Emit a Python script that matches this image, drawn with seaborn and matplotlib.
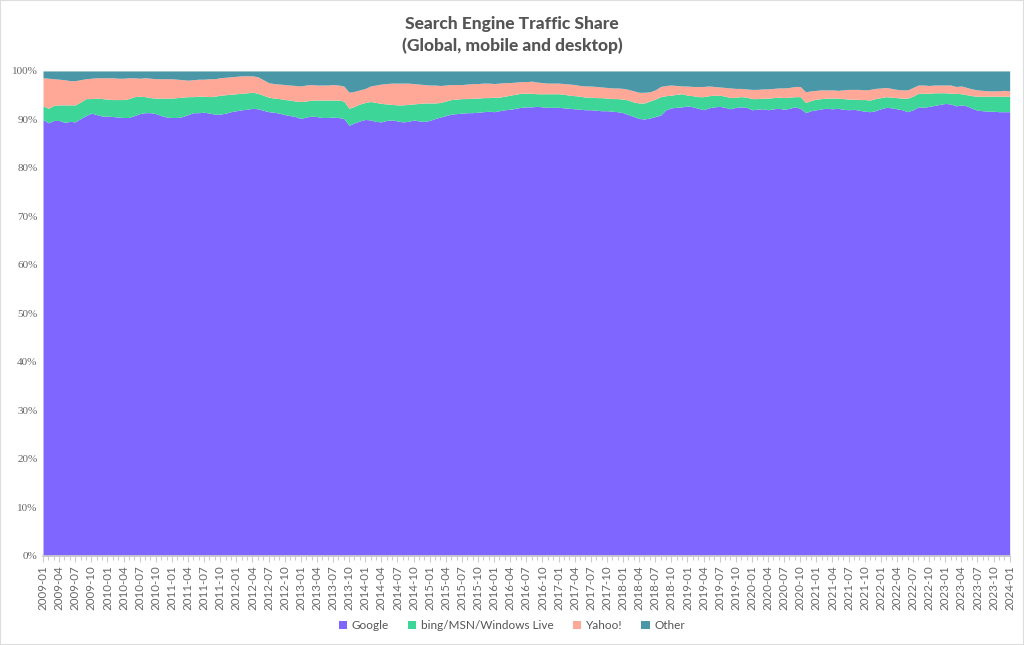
import numpy as np
import pandas as pd
import matplotlib
matplotlib.use("Agg")
import matplotlib.pyplot as plt
from matplotlib.patches import Patch
from matplotlib.ticker import FuncFormatter, MultipleLocator
import seaborn as sns

# monthly share in %, 2009-01 .. 2024-01
google = [
    90.0, 89.3, 89.8, 89.8, 89.4, 89.6, 89.5, 90.2, 90.8, 91.3, 91.0, 90.7,
    90.7, 90.6, 90.5, 90.4, 90.4, 90.8, 91.2, 91.4, 91.4, 91.2, 90.8, 90.5,
    90.4, 90.4, 90.6, 91.0, 91.4, 91.4, 91.5, 91.3, 91.1, 91.1, 91.3, 91.6,
    91.8, 92.0, 92.1, 92.3, 92.2, 91.9, 91.6, 91.5, 91.3, 91.0, 90.8, 90.6,
    90.2, 90.5, 90.7, 90.6, 90.4, 90.4, 90.5, 90.4, 90.2, 88.8, 89.3, 89.7,
    90.0, 89.9, 89.6, 89.5, 89.8, 89.9, 89.7, 89.5, 89.6, 89.9, 89.7, 89.6,
    89.8, 90.2, 90.5, 90.8, 91.1, 91.2, 91.3, 91.4, 91.4, 91.5, 91.6, 91.7,
    91.6, 91.8, 92.0, 92.1, 92.3, 92.5, 92.6, 92.6, 92.7, 92.6, 92.5, 92.5,
    92.5, 92.4, 92.3, 92.2, 92.1, 92.0, 92.0, 91.9, 91.8, 91.8, 91.7, 91.6,
    91.4, 91.0, 90.6, 90.2, 90.1, 90.3, 90.6, 90.9, 92.0, 92.4, 92.5, 92.6,
    92.8, 92.6, 92.3, 92.0, 92.4, 92.6, 92.7, 92.5, 92.2, 92.5, 92.6, 92.5,
    92.0, 92.1, 92.2, 92.0, 92.2, 92.3, 92.1, 92.3, 92.6, 92.3, 91.4, 91.8,
    92.0, 92.2, 92.3, 92.2, 92.3, 92.1, 92.0, 92.1, 91.9, 91.7, 91.6, 91.8,
    92.2, 92.5, 92.4, 92.2, 92.0, 91.6, 92.0, 92.6, 92.5, 92.7, 92.9, 93.1,
    93.3, 93.2, 92.8, 93.0, 92.8, 92.3, 91.9, 91.8, 91.7, 91.7, 91.6, 91.6,
    91.6,
]
bing = [
    2.8, 3.0, 3.1, 3.2, 3.6, 3.4, 3.5, 3.4, 3.5, 3.0, 3.4, 3.6,
    3.5, 3.5, 3.6, 3.7, 3.9, 3.9, 3.6, 3.3, 3.1, 3.2, 3.6, 3.9,
    4.0, 4.1, 4.0, 3.7, 3.3, 3.4, 3.3, 3.4, 3.7, 3.9, 3.8, 3.6,
    3.5, 3.4, 3.4, 3.3, 3.2, 3.1, 3.0, 2.9, 3.0, 3.1, 3.2, 3.2,
    3.5, 3.3, 3.3, 3.4, 3.6, 3.6, 3.5, 3.6, 3.6, 3.5, 3.4, 3.5,
    3.5, 3.8, 3.9, 3.8, 3.4, 3.2, 3.3, 3.5, 3.5, 3.3, 3.6, 3.8,
    3.6, 3.2, 3.0, 3.0, 3.0, 3.0, 3.0, 2.9, 3.0, 2.9, 2.9, 2.8,
    3.0, 2.8, 2.8, 2.9, 2.9, 2.9, 2.8, 2.8, 2.6, 2.7, 2.8, 2.8,
    2.8, 2.8, 2.7, 2.7, 2.7, 2.6, 2.6, 2.6, 2.7, 2.6, 2.6, 2.7,
    2.8, 3.0, 3.0, 3.2, 3.3, 3.5, 3.6, 3.8, 2.9, 2.6, 2.7, 2.7,
    2.2, 2.3, 2.4, 2.7, 2.5, 2.4, 2.3, 2.3, 2.3, 2.1, 2.1, 2.1,
    2.3, 2.2, 2.2, 2.4, 2.3, 2.3, 2.4, 2.3, 2.1, 2.4, 2.1, 2.1,
    2.2, 2.1, 2.1, 2.2, 2.1, 2.2, 2.2, 2.1, 2.2, 2.4, 2.4, 2.5,
    2.3, 2.2, 2.2, 2.3, 2.4, 2.8, 2.8, 2.8, 2.9, 2.7, 2.6, 2.4,
    2.2, 2.2, 2.6, 2.3, 2.3, 2.6, 2.9, 3.0, 3.1, 3.1, 3.2, 3.2,
    3.2,
]
yahoo = [
    5.8, 6.2, 5.5, 5.3, 5.2, 5.0, 5.0, 4.6, 4.1, 4.2, 4.2, 4.3,
    4.4, 4.5, 4.4, 4.4, 4.3, 3.9, 3.7, 3.9, 4.0, 4.0, 4.0, 4.0,
    4.0, 3.8, 3.6, 3.4, 3.5, 3.5, 3.5, 3.7, 3.6, 3.6, 3.6, 3.6,
    3.6, 3.6, 3.5, 3.4, 3.4, 3.2, 3.0, 3.0, 3.0, 3.1, 3.1, 3.2,
    3.2, 3.3, 3.2, 3.1, 3.1, 3.1, 3.2, 3.1, 3.1, 3.3, 3.1, 2.9,
    2.9, 3.2, 3.6, 4.0, 4.2, 4.4, 4.5, 4.5, 4.4, 4.2, 4.0, 3.8,
    3.7, 3.7, 3.5, 3.3, 3.1, 3.0, 2.9, 3.0, 3.0, 3.0, 3.0, 3.0,
    2.8, 2.9, 2.8, 2.6, 2.5, 2.4, 2.4, 2.5, 2.4, 2.3, 2.2, 2.2,
    2.2, 2.2, 2.3, 2.3, 2.2, 2.3, 2.3, 2.3, 2.2, 2.2, 2.2, 2.2,
    2.2, 2.2, 2.3, 2.2, 2.2, 1.9, 1.9, 2.1, 2.1, 2.1, 1.8, 1.6,
    1.9, 1.9, 2.1, 2.1, 2.0, 1.8, 1.7, 1.8, 2.0, 1.8, 1.7, 1.7,
    1.9, 1.9, 1.9, 1.9, 1.9, 1.9, 2.0, 2.0, 2.1, 2.1, 2.2, 2.0,
    1.8, 1.8, 1.7, 1.7, 1.6, 1.8, 2.0, 2.0, 2.1, 2.0, 2.2, 2.1,
    2.0, 1.9, 1.8, 1.7, 1.7, 1.7, 1.8, 1.7, 1.7, 1.6, 1.6, 1.6,
    1.6, 1.7, 1.4, 1.6, 1.5, 1.4, 1.3, 1.2, 1.1, 1.1, 1.1, 1.2,
    1.1,
]
other = [
    1.4, 1.5, 1.6, 1.7, 1.8, 2.0, 2.0, 1.8, 1.6, 1.5, 1.4, 1.4,
    1.4, 1.4, 1.5, 1.5, 1.4, 1.4, 1.5, 1.4, 1.5, 1.6, 1.6, 1.6,
    1.6, 1.7, 1.8, 1.9, 1.8, 1.7, 1.7, 1.6, 1.6, 1.4, 1.3, 1.2,
    1.1, 1.0, 1.0, 1.0, 1.2, 1.8, 2.4, 2.6, 2.7, 2.8, 2.9, 3.0,
    3.1, 2.9, 2.8, 2.9, 2.9, 2.9, 2.8, 2.9, 3.1, 4.4, 4.2, 3.9,
    3.6, 3.1, 2.9, 2.7, 2.6, 2.5, 2.5, 2.5, 2.5, 2.6, 2.7, 2.8,
    2.9, 2.9, 3.0, 2.9, 2.8, 2.8, 2.8, 2.7, 2.6, 2.6, 2.5, 2.5,
    2.6, 2.5, 2.4, 2.4, 2.3, 2.2, 2.2, 2.1, 2.3, 2.4, 2.5, 2.5,
    2.5, 2.6, 2.7, 2.8, 3.0, 3.1, 3.1, 3.2, 3.3, 3.4, 3.5, 3.5,
    3.6, 3.8, 4.1, 4.4, 4.4, 4.3, 3.9, 3.2, 3.0, 2.9, 3.0, 3.1,
    3.1, 3.2, 3.2, 3.2, 3.1, 3.2, 3.3, 3.4, 3.5, 3.6, 3.6, 3.7,
    3.8, 3.8, 3.7, 3.7, 3.6, 3.5, 3.5, 3.4, 3.2, 3.2, 4.3, 4.1,
    4.0, 3.9, 3.9, 3.9, 4.0, 3.9, 3.8, 3.8, 3.8, 3.9, 3.8, 3.6,
    3.5, 3.4, 3.6, 3.8, 3.9, 3.9, 3.4, 2.9, 2.9, 3.0, 2.9, 2.9,
    2.9, 2.9, 3.2, 3.1, 3.4, 3.7, 3.9, 4.0, 4.1, 4.1, 4.1, 4.0,
    4.1,
]
months = pd.period_range("2009-01", "2024-01", freq="M").strftime("%Y-%m").tolist()
series_names = ["Google", "bing/MSN/Windows Live", "Yahoo!", "Other"]
colors = ["#7F66FF", "#3DD598", "#FFA897", "#4A97A8"]

df = pd.DataFrame({"month": months, "Google": google, "bing/MSN/Windows Live": bing,
                   "Yahoo!": yahoo, "Other": other})

sns.set_theme(style="white")
plt.rcParams['font.family'] = ['Lato', 'DejaVu Sans']

fig = plt.figure(figsize=(10.24, 6.45), dpi=100)
ax = fig.add_axes([0.042, 0.138, 0.944, 0.752])

x = np.arange(len(df))
ax.stackplot(x, [df[c].values / 100 for c in series_names], colors=colors, linewidth=0)

ax.set_xlim(0, len(df) - 1)
ax.set_ylim(0, 1)
ax.yaxis.set_major_locator(MultipleLocator(0.1))
ax.yaxis.set_major_formatter(FuncFormatter(lambda v, p: f"{v*100:.0f}%"))
ax.tick_params(axis="y", labelsize=8, labelcolor="#666666", length=0, pad=4)
for lab in ax.get_yticklabels():
    lab.set_family(["Liberation Serif", "DejaVu Serif"])

ax.set_xticks(x[::3])
ax.set_xticklabels(df["month"][::3], rotation=90, fontsize=8.3, color="#666666")
ax.set_xticks(x, minor=True)
ax.tick_params(axis="x", which="both", direction="out", color="#cccccc",
               bottom=True, length=4, width=0.8, pad=3)
ax.tick_params(axis="x", which="minor", length=3)

for s in ["top", "right", "left"]:
    ax.spines[s].set_visible(False)
ax.spines["bottom"].set_color("#cccccc")

fig.suptitle("Search Engine Traffic Share\n(Global, mobile and desktop)",
             y=0.975, fontsize=12.5, fontweight="black", color="#555555", linespacing=1.4)

handles = [Patch(facecolor=c, edgecolor="none", label=n) for c, n in zip(colors, series_names)]
fig.legend(handles=handles, loc="center", bbox_to_anchor=(0.5, 0.03), ncol=4,
           frameon=False, fontsize=8.5, handlelength=0.7, handleheight=0.7,
           handletextpad=0.4, columnspacing=1.6, labelcolor="#555555")

fig.patches.append(plt.Rectangle((0, 0), 1, 1, transform=fig.transFigure,
                                 fill=False, edgecolor="#dddddd", linewidth=1.5))

fig.savefig("out.png", dpi=100)
